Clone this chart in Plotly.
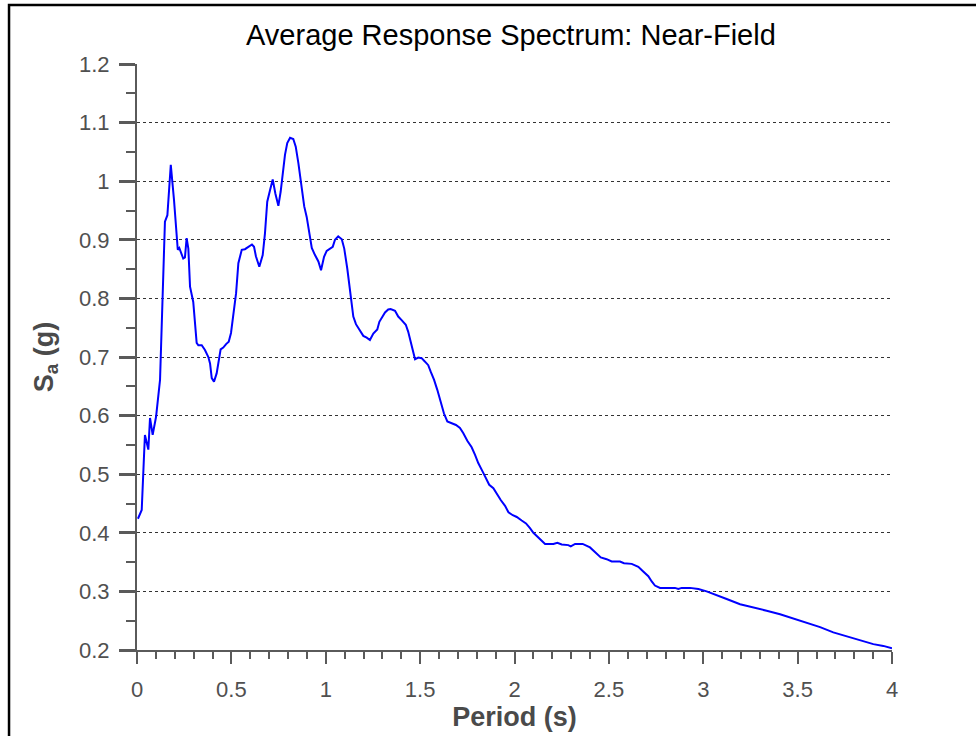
import plotly.graph_objects as go

# Average spectral acceleration (g) vs. period (s), near-field records
period = [
    0.005, 0.025, 0.037, 0.042, 0.060, 0.069, 0.083, 0.101, 0.122, 0.136,
    0.148, 0.161, 0.179, 0.196, 0.216, 0.224, 0.232, 0.245, 0.254, 0.263,
    0.272, 0.281, 0.298, 0.316, 0.325, 0.343, 0.360, 0.378, 0.387, 0.396,
    0.408, 0.422, 0.443, 0.457, 0.472, 0.486, 0.498, 0.514, 0.525, 0.537,
    0.555, 0.572, 0.590, 0.609, 0.620, 0.630, 0.648, 0.666, 0.678, 0.690,
    0.705, 0.719, 0.733, 0.749, 0.761, 0.772, 0.784, 0.796, 0.811, 0.828,
    0.841, 0.855, 0.873, 0.886, 0.899, 0.913, 0.926, 0.943, 0.961, 0.975,
    0.991, 1.005, 1.023, 1.037, 1.049, 1.066, 1.085, 1.098, 1.114, 1.128,
    1.146, 1.160, 1.181, 1.199, 1.217, 1.234, 1.252, 1.273, 1.284, 1.302,
    1.314, 1.331, 1.344, 1.367, 1.384, 1.402, 1.424, 1.437, 1.450, 1.464,
    1.473, 1.490, 1.508, 1.526, 1.543, 1.556, 1.574, 1.591, 1.609, 1.626,
    1.644, 1.667, 1.690, 1.711, 1.729, 1.750, 1.773, 1.791, 1.808, 1.832,
    1.849, 1.866, 1.888, 1.906, 1.927, 1.950, 1.968, 1.991, 2.012, 2.038,
    2.061, 2.082, 2.100, 2.162, 2.206, 2.227, 2.250, 2.285, 2.298, 2.321,
    2.361, 2.400, 2.426, 2.457, 2.488, 2.515, 2.559, 2.580, 2.621, 2.656,
    2.682, 2.709, 2.727, 2.744, 2.771, 2.850, 2.868, 2.886, 2.930, 2.974,
    3.018, 3.080, 3.124, 3.195, 3.265, 3.336, 3.407, 3.477, 3.548, 3.619,
    3.689, 3.760, 3.830, 3.901, 3.954, 4.000,
]
sa = [
    0.424, 0.439, 0.530, 0.567, 0.542, 0.596, 0.567, 0.598, 0.661, 0.797,
    0.931, 0.942, 1.028, 0.968, 0.883, 0.886, 0.880, 0.868, 0.870, 0.903,
    0.885, 0.820, 0.794, 0.724, 0.720, 0.720, 0.712, 0.700, 0.689, 0.664,
    0.658, 0.672, 0.713, 0.716, 0.722, 0.726, 0.741, 0.780, 0.809, 0.860,
    0.883, 0.884, 0.888, 0.892, 0.888, 0.872, 0.854, 0.874, 0.911, 0.965,
    0.985, 1.003, 0.979, 0.958, 0.982, 1.013, 1.045, 1.065, 1.074, 1.072,
    1.059, 1.031, 0.991, 0.957, 0.939, 0.908, 0.886, 0.874, 0.863, 0.848,
    0.871, 0.881, 0.885, 0.888, 0.900, 0.906, 0.901, 0.885, 0.851, 0.814,
    0.769, 0.756, 0.746, 0.736, 0.733, 0.729, 0.740, 0.747, 0.760, 0.769,
    0.776, 0.781, 0.782, 0.779, 0.769, 0.763, 0.755, 0.743, 0.726, 0.703,
    0.696, 0.699, 0.698, 0.692, 0.686, 0.675, 0.661, 0.644, 0.625, 0.604,
    0.590, 0.587, 0.584, 0.579, 0.570, 0.557, 0.546, 0.533, 0.519, 0.504,
    0.493, 0.482, 0.476, 0.466, 0.456, 0.446, 0.435, 0.430, 0.427, 0.421,
    0.416, 0.408, 0.400, 0.381, 0.381, 0.383, 0.380, 0.379, 0.377, 0.381,
    0.381, 0.375, 0.368, 0.358, 0.355, 0.351, 0.351, 0.348, 0.347, 0.342,
    0.334, 0.326, 0.317, 0.310, 0.306, 0.306, 0.304, 0.306, 0.306, 0.304,
    0.300, 0.293, 0.287, 0.278, 0.273, 0.267, 0.261, 0.254, 0.247, 0.239,
    0.230, 0.223, 0.217, 0.210, 0.207, 0.203,
]

x_ticks = [0, 0.5, 1, 1.5, 2, 2.5, 3, 3.5, 4]
x_tick_text = ["0", "0.5", "1", "1.5", "2", "2.5", "3", "3.5", "4"]
y_ticks = [0.2, 0.3, 0.4, 0.5, 0.6, 0.7, 0.8, 0.9, 1.0, 1.1, 1.2]
y_tick_text = ["0.2", "0.3", "0.4", "0.5", "0.6", "0.7", "0.8", "0.9", "1", "1.1", "1.2"]

FONT = "Liberation Sans, Arial, Helvetica, sans-serif"
AXIS_GREY = "#5a5a5a"
LABEL_GREY = "#505050"

fig = go.Figure()
fig.add_trace(go.Scatter(
    x=period, y=sa, mode="lines",
    line=dict(color="#0000ff", width=2),
    showlegend=False, hoverinfo="x+y",
))

fig.update_layout(
    width=976, height=736,
    margin=dict(l=137, r=84, t=64, b=86, autoexpand=False),
    paper_bgcolor="white", plot_bgcolor="white",
    font=dict(family=FONT, color=LABEL_GREY),
    title=dict(
        text="Average Response Spectrum: Near-Field",
        font=dict(family=FONT, size=29, color="black"),
        x=0.5235, xanchor="center", y=0.953, yanchor="middle",
    ),
    xaxis=dict(
        range=[0, 4], tickvals=x_ticks, ticktext=x_tick_text,
        automargin=False,
        showgrid=False, zeroline=False,
        showline=True, linecolor=AXIS_GREY, linewidth=2,
        ticks="outside", ticklen=12, tickwidth=2, tickcolor=AXIS_GREY,
        minor=dict(ticks="outside", ticklen=7, tickwidth=1.5,
                   tickcolor=AXIS_GREY, dtick=0.1, tick0=0, showgrid=False),
        tickfont=dict(family=FONT, size=22, color=LABEL_GREY),
        ticklabelstandoff=7,
        title=dict(text="<b>Period (s)</b>",
                   font=dict(family=FONT, size=27, color="#4a4a4a"),
                   standoff=6),
    ),
    yaxis=dict(
        range=[0.2, 1.2], tickvals=y_ticks, ticktext=y_tick_text,
        automargin=False,
        showgrid=True, gridcolor="#333333", gridwidth=1, griddash="dot",
        zeroline=False,
        showline=True, linecolor=AXIS_GREY, linewidth=2,
        ticks="outside", ticklen=16, tickwidth=3, tickcolor=AXIS_GREY,
        minor=dict(ticks="outside", ticklen=9, tickwidth=1.5,
                   tickcolor=AXIS_GREY, dtick=0.05, tick0=0.2, showgrid=False),
        tickfont=dict(family=FONT, size=22, color=LABEL_GREY),
        ticklabelstandoff=5,
        title=dict(text="<b>S<sub>a</sub> (g)</b>",
                   font=dict(family=FONT, size=27, color="#4a4a4a"),
                   standoff=18),
    ),
)

# Outer figure frame
fig.add_shape(
    type="rect", xref="paper", yref="paper",
    x0=-0.1695, x1=1.12, y0=-0.16, y1=1.1007,
    line=dict(color="black", width=2.5), fillcolor="rgba(0,0,0,0)",
    layer="above",
)

fig.write_html("out.html")
